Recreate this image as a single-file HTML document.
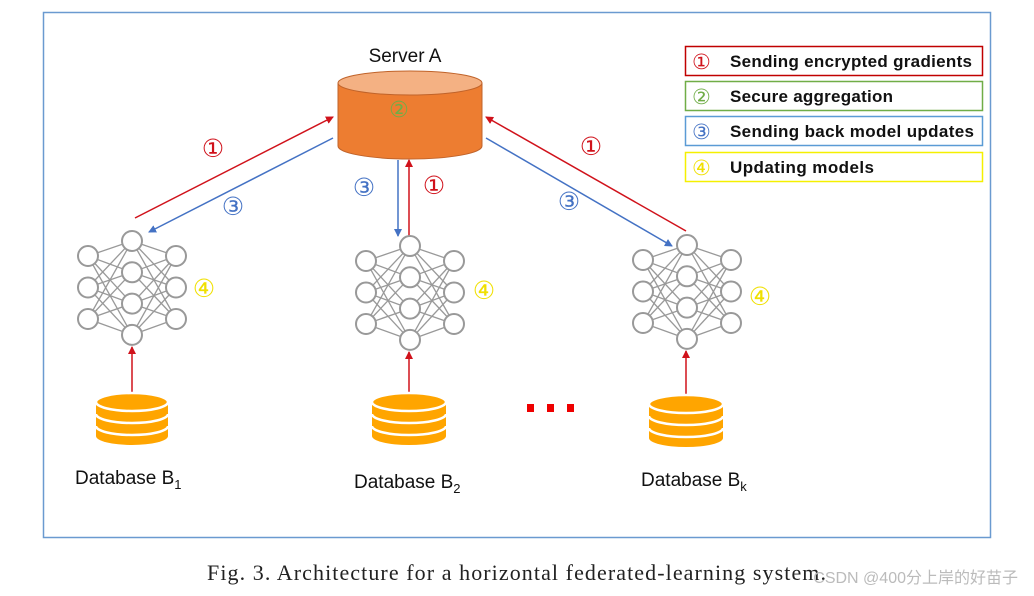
<!DOCTYPE html>
<html><head><meta charset="utf-8"><style>
body{margin:0;background:#fff;width:1034px;height:596px;overflow:hidden}
svg{display:block}
</style></head><body>
<svg id="s" width="1034" height="596" viewBox="0 0 1034 596" xmlns="http://www.w3.org/2000/svg" font-family="Liberation Sans, DejaVu Sans, sans-serif">
<defs>
<marker id="ar" markerWidth="8" markerHeight="8" refX="7" refY="4" orient="auto" markerUnits="userSpaceOnUse"><path d="M0,0 L8,4 L0,8 z" fill="#d0121b"/></marker>
<marker id="ab" markerWidth="8" markerHeight="8" refX="7" refY="4" orient="auto" markerUnits="userSpaceOnUse"><path d="M0,0 L8,4 L0,8 z" fill="#4472c4"/></marker>
</defs>
<rect x="43.5" y="12.5" width="947" height="525" fill="none" stroke="#6a9ad0" stroke-width="1.5"/>
<text x="405" y="62" font-size="19" text-anchor="middle" fill="#111">Server A</text>
<path d="M338,83 L338,146 A72,13 0 0 0 482,146 L482,83 Z" fill="#ed7d31" stroke="#c0632a" stroke-width="1"/>
<ellipse cx="410" cy="83" rx="72" ry="12" fill="#f4b183" stroke="#c0632a" stroke-width="1"/>
<text x="399" y="117" font-size="22" fill="#70ad47" text-anchor="middle">②</text>
<g stroke-width="1.5" fill="none">
<line x1="135" y1="218" x2="333" y2="117" stroke="#d0121b" marker-end="url(#ar)"/>
<line x1="333" y1="138" x2="149" y2="232" stroke="#4472c4" marker-end="url(#ab)"/>
<line x1="398" y1="160" x2="398" y2="236" stroke="#4472c4" marker-end="url(#ab)"/>
<line x1="409" y1="236" x2="409" y2="160" stroke="#d0121b" marker-end="url(#ar)"/>
<line x1="686" y1="231" x2="486" y2="117" stroke="#d0121b" marker-end="url(#ar)"/>
<line x1="486" y1="138" x2="672" y2="246" stroke="#4472c4" marker-end="url(#ab)"/>
<line x1="132" y1="393" x2="132" y2="347" stroke="#d0121b" marker-end="url(#ar)"/>
<line x1="409" y1="393" x2="409" y2="352" stroke="#d0121b" marker-end="url(#ar)"/>
<line x1="686" y1="395" x2="686" y2="351" stroke="#d0121b" marker-end="url(#ar)"/>
</g>
<g font-size="25">
<text x="213" y="157" fill="#d0121b" text-anchor="middle">①</text>
<text x="233" y="215" fill="#4472c4" text-anchor="middle">③</text>
<text x="364" y="196" fill="#4472c4" text-anchor="middle">③</text>
<text x="434" y="194" fill="#d0121b" text-anchor="middle">①</text>
<text x="591" y="155" fill="#d0121b" text-anchor="middle">①</text>
<text x="569" y="210" fill="#4472c4" text-anchor="middle">③</text>
<text x="204" y="297" fill="#f0e000" text-anchor="middle">④</text>
<text x="484" y="299" fill="#f0e000" text-anchor="middle">④</text>
<text x="760" y="305" fill="#f0e000" text-anchor="middle">④</text>
</g>
<g id="nets"></g>
<g id="dbs"></g>
<g fill="#e00">
<rect x="527" y="404" width="7" height="8"/><rect x="547" y="404" width="7" height="8"/><rect x="567" y="404" width="7" height="8"/>
</g>
<g font-size="19" fill="#111">
<text x="75" y="484">Database B<tspan font-size="13" dy="5">1</tspan></text>
<text x="354" y="488">Database B<tspan font-size="13" dy="5">2</tspan></text>
<text x="641" y="486">Database B<tspan font-size="13" dy="5">k</tspan></text>
</g>
<g stroke-width="1.5" fill="#fff">
<rect x="685.5" y="46.5" width="297" height="29" stroke="#c00000"/>
<rect x="685.5" y="81.5" width="297" height="29" stroke="#70ad47"/>
<rect x="685.5" y="116.5" width="297" height="29" stroke="#5b9bd5"/>
<rect x="685.5" y="152.5" width="297" height="29" stroke="#f5f000"/>
</g>
<g font-size="17" fill="#111" font-weight="bold">
<text x="692" y="69" fill="#d0121b" font-size="21" font-weight="normal">①</text><text x="730" y="67" textLength="242" lengthAdjust="spacing">Sending encrypted gradients</text>
<text x="692" y="104" fill="#70ad47" font-size="21" font-weight="normal">②</text><text x="730" y="102" textLength="163" lengthAdjust="spacing">Secure aggregation</text>
<text x="692" y="139" fill="#4472c4" font-size="21" font-weight="normal">③</text><text x="730" y="137" textLength="244" lengthAdjust="spacing">Sending back model updates</text>
<text x="692" y="175" fill="#f0e000" font-size="21" font-weight="normal">④</text><text x="730" y="173" textLength="144" lengthAdjust="spacing">Updating models</text>
</g>
<text x="207" y="580" font-size="22" fill="#222" textLength="619" lengthAdjust="spacing" style="font-family:'Liberation Serif',serif">Fig. 3.  Architecture for a horizontal federated-learning system.</text>
<text x="1018" y="583" font-size="16" fill="#bbb" text-anchor="end" style="font-family:'Liberation Sans','Noto Sans CJK SC',sans-serif">CSDN @400分上岸的好苗子</text>
</svg>
<script>
var NS="http://www.w3.org/2000/svg";
function el(p,t,a){var e=document.createElementNS(NS,t);for(var k in a)e.setAttribute(k,a[k]);p.appendChild(e);return e;}
var nets=document.getElementById("nets");
[[132,241],[410,246],[687,245]].forEach(function(c){
 var cx=c[0],ty=c[1];
 var L=[],M=[],R=[];
 for(var i=0;i<4;i++)M.push([cx,ty+i*31.3]);
 for(var i=0;i<3;i++){L.push([cx-44,ty+15+i*31.5]);R.push([cx+44,ty+15+i*31.5]);}
 L.forEach(function(a){M.forEach(function(b){el(nets,"line",{x1:a[0],y1:a[1],x2:b[0],y2:b[1],stroke:"#999","stroke-width":1.3});});});
 R.forEach(function(a){M.forEach(function(b){el(nets,"line",{x1:a[0],y1:a[1],x2:b[0],y2:b[1],stroke:"#999","stroke-width":1.3});});});
 L.concat(M,R).forEach(function(p){el(nets,"circle",{cx:p[0],cy:p[1],r:10,fill:"#fff",stroke:"#999","stroke-width":2});});
});
var dbs=document.getElementById("dbs");
[[132,393,36],[409,393,37],[686,395,37]].forEach(function(c){
 var cx=c[0],y=c[1],rx=c[2],ry=9;
 var t=y+ry, b=y+43;
 el(dbs,"path",{d:"M"+(cx-rx)+","+t+" L"+(cx-rx)+","+b+" A"+rx+","+ry+" 0 0 0 "+(cx+rx)+","+b+" L"+(cx+rx)+","+t+" Z",fill:"#ffa500"});
 [t+12,t+24].forEach(function(yy){
  el(dbs,"path",{d:"M"+(cx-rx)+","+yy+" A"+rx+","+ry+" 0 0 0 "+(cx+rx)+","+yy,fill:"none",stroke:"#fff","stroke-width":2.5});
 });
 el(dbs,"ellipse",{cx:cx,cy:t,rx:rx,ry:ry,fill:"#ffa500",stroke:"#fff","stroke-width":2.5});
});
</script>
</body></html>
